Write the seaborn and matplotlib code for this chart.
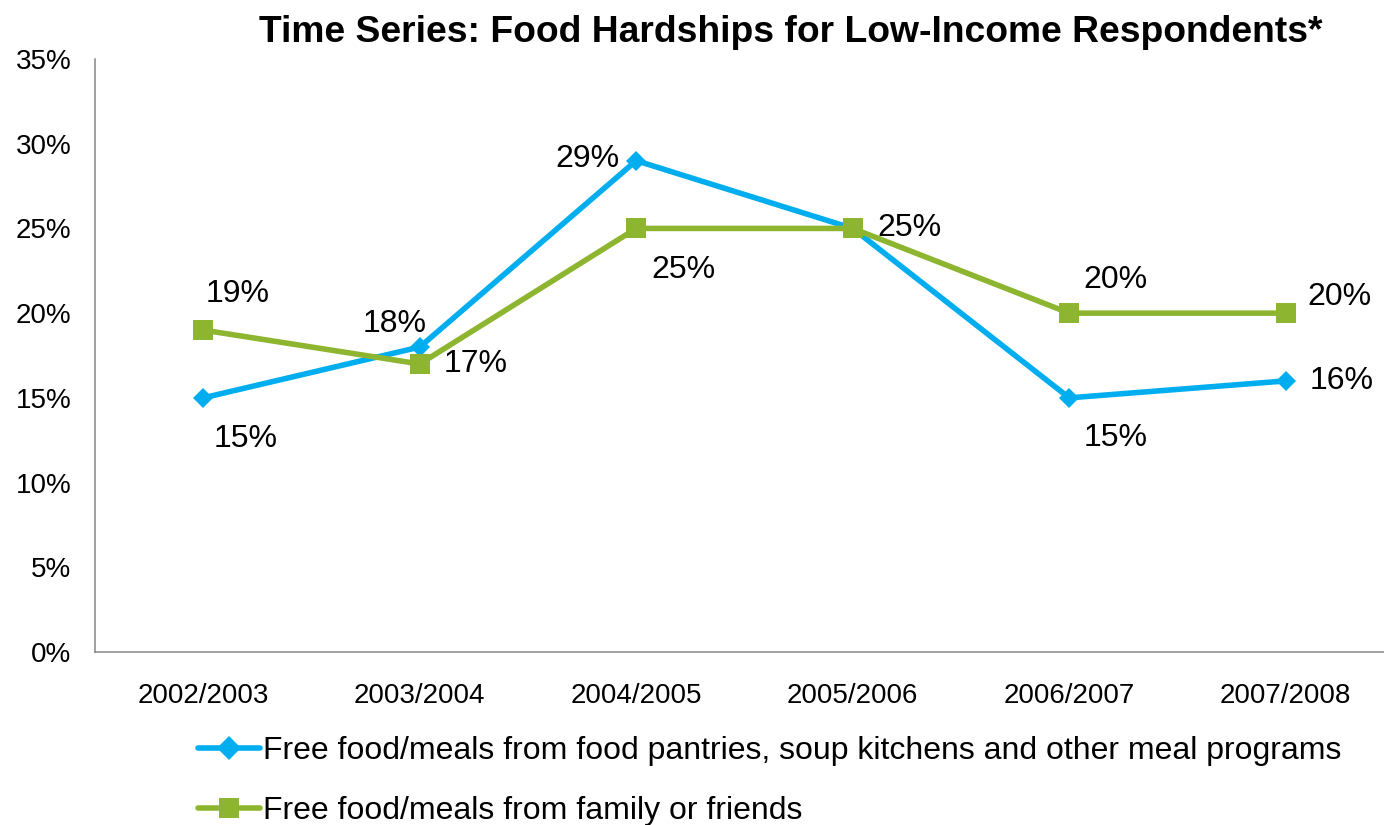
import matplotlib
matplotlib.use("Agg")
import matplotlib.pyplot as plt
import seaborn as sns
import pandas as pd
from matplotlib.lines import Line2D

# ---- data ----
years = ["2002/2003", "2003/2004", "2004/2005", "2005/2006", "2006/2007", "2007/2008"]
pantry = [15, 18, 29, 25, 15, 16]
family = [19, 17, 25, 25, 20, 20]
series_names = [
    "Free food/meals from food pantries, soup kitchens and other meal programs",
    "Free food/meals from family or friends",
]
yticks = [0, 5, 10, 15, 20, 25, 30, 35]
title = "Time Series: Food Hardships for Low-Income Respondents*"

# label offsets (pixels) for data labels; None -> no label
pantry_off = [(42, -41), (-25, 23), (-49, 2), (57, 0), (46, -40), (56, 0)]
family_off = [(34, 36), (56, 0), (47, -42), None, (46, 33), (54, 16)]

BLUE = "#00AEEF"
GREEN = "#8DB530"

sns.set_style("white")
plt.rcParams["font.family"] = ["Liberation Sans", "DejaVu Sans"]
plt.rcParams["text.color"] = "black"
plt.rcParams["xtick.color"] = "black"
plt.rcParams["ytick.color"] = "black"

W, H = 1384, 825
fig = plt.figure(figsize=(W / 100, H / 100), dpi=100)
ax = fig.add_axes([95 / W, 1 - 652 / H, 1299 / W, 593 / H])

df = pd.DataFrame({"year": years, "pantry": pantry, "family": family})
sns.lineplot(data=df, x="year", y="pantry", ax=ax, color=BLUE, linewidth=4,
             marker="D", markersize=10.5, markeredgewidth=0, sort=False, zorder=3)
sns.lineplot(data=df, x="year", y="family", ax=ax, color=GREEN, linewidth=4,
             marker="s", markersize=14, markeredgewidth=0, sort=False, zorder=4)

for vals, offs in ((pantry, pantry_off), (family, family_off)):
    for i, (v, o) in enumerate(zip(vals, offs)):
        if o is None:
            continue
        ax.annotate(f"{v}%", (i, v), xytext=o, textcoords="offset pixels",
                    ha="center", va="center", fontsize=23, color="black", zorder=5)

ax.set_xlim(-0.5, len(years) - 0.5)
ax.set_ylim(0, 35)
ax.set_yticks(yticks)
ax.set_yticklabels([f"{t}%" for t in yticks], fontsize=20)
ax.set_xticks(range(len(years)))
ax.set_xticklabels(years, fontsize=20)
ax.set_xticks([i - 0.5 for i in range(len(years) + 1)], minor=True)
ax.tick_params(axis="x", which="major", length=0, pad=22.5, labelcolor="black")
ax.tick_params(axis="x", which="minor", length=7, width=1.1, color="#868686", direction="out")
ax.tick_params(axis="y", which="major", length=7, width=1.1, color="#868686",
               direction="out", pad=10, labelcolor="black")
ax.set_xlabel("")
ax.set_ylabel("")
for s in ("top", "right"):
    ax.spines[s].set_visible(False)
for s in ("left", "bottom"):
    ax.spines[s].set_color("#868686")
    ax.spines[s].set_linewidth(1.1)
ax.grid(False)

fig.text(791 / W, 1 - 42 / H, title, ha="center", va="baseline",
         fontsize=26.8, fontweight="bold", color="black")

handles = [
    Line2D([], [], color=BLUE, linewidth=4, marker="D", markersize=12, markeredgewidth=0),
    Line2D([], [], color=GREEN, linewidth=4, marker="s", markersize=14, markeredgewidth=0),
]
leg = fig.legend(handles, series_names, loc="upper left", bbox_to_anchor=(198 / W, 1 - 736 / H),
                 frameon=False, fontsize=23, handlelength=1.95, handletextpad=0.08,
                 labelspacing=0.95, borderpad=0, borderaxespad=0)
for t in leg.get_texts():
    t.set_color("black")

fig.savefig("out.png", dpi=100)
